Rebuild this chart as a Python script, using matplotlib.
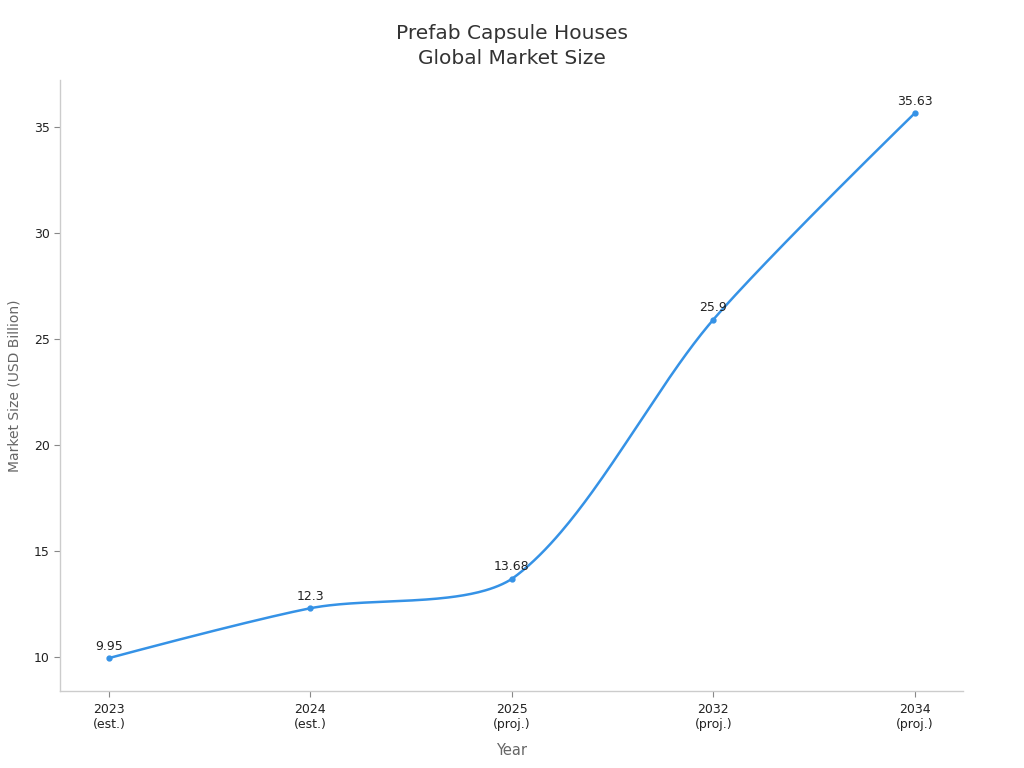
import matplotlib
matplotlib.use("Agg")
import matplotlib.pyplot as plt
import numpy as np

# data
years = ["2023\n(est.)", "2024\n(est.)", "2025\n(proj.)", "2032\n(proj.)", "2034\n(proj.)"]
market_size = [9.95, 12.3, 13.68, 25.9, 35.63]
value_labels = ["9.95", "12.3", "13.68", "25.9", "35.63"]

LINE_COLOR = "#3592e6"
AXIS_GREY = "#cccccc"


def smooth_path(ax, xs, ys, smooth=0.3, steps=80):
    # bezier smoothing done in pixel space, control points clamped
    # between neighbours so the curve never overshoots a point
    pts = ax.transData.transform(np.column_stack([xs, ys]))
    n = len(pts)
    cp_out = [None] * n
    cp_in = [None] * n
    cp_out[0] = pts[0]
    cp_in[-1] = pts[-1]
    for i in range(1, n - 1):
        prev, cur, nxt = pts[i - 1], pts[i], pts[i + 1]
        v = nxt - prev
        d0 = np.hypot(*(cur - prev))
        d1 = np.hypot(*(nxt - cur))
        r = d1 / (d0 + d1)
        a = cur - v * smooth * (1 - r)
        b = cur + v * smooth * r
        a = np.clip(a, np.minimum(prev, cur), np.maximum(prev, cur))
        b = np.clip(b, np.minimum(cur, nxt), np.maximum(cur, nxt))
        cp_in[i] = a
        cp_out[i] = b
    segs = []
    t = np.linspace(0, 1, steps)[:, None]
    for i in range(n - 1):
        p0, p1, p2, p3 = pts[i], cp_out[i], cp_in[i + 1], pts[i + 1]
        seg = ((1 - t) ** 3) * p0 + 3 * t * (1 - t) ** 2 * p1 \
            + 3 * t ** 2 * (1 - t) * p2 + t ** 3 * p3
        segs.append(seg)
    curve = np.vstack(segs)
    data = ax.transData.inverted().transform(curve)
    return data[:, 0], data[:, 1]


fig = plt.figure(figsize=(10.24, 7.68), dpi=100)
ax = fig.add_axes([0.0586, 0.1003, 0.8818, 0.7955])

x = np.arange(len(years))
ax.set_xlim(-0.243, 4.24)
ax.set_ylim(8.4, 37.2)

cx, cy = smooth_path(ax, x, market_size)
ax.plot(cx, cy, color=LINE_COLOR, linewidth=1.8, solid_capstyle="round")
ax.plot(x, market_size, "o", color=LINE_COLOR, markersize=3.5)

for xi, yi, lab in zip(x, market_size, value_labels):
    ax.annotate(lab, (xi, yi), xytext=(0, 4), textcoords="offset points",
                ha="center", va="bottom", fontsize=9, color="#222222")

ax.set_xticks(x)
ax.set_xticklabels(years)
ax.set_yticks([10, 15, 20, 25, 30, 35])

for side in ["top", "right"]:
    ax.spines[side].set_visible(False)
for side in ["left", "bottom"]:
    ax.spines[side].set_color(AXIS_GREY)
    ax.spines[side].set_linewidth(1.0)

ax.tick_params(axis="both", colors="#888888", labelcolor="#222222",
               labelsize=9, length=4, width=0.8)
ax.tick_params(axis="x", pad=5)

ax.set_xlabel("Year", fontsize=10.5, color="#666666", labelpad=8)
ax.set_ylabel("Market Size (USD Billion)", fontsize=10, color="#666666", labelpad=9)

fig.text(0.5, 0.94, "Prefab Capsule Houses\nGlobal Market Size", fontsize=14.5,
         color="#333333", ha="center", va="center", linespacing=1.4)

fig.savefig("out.png", dpi=100)
